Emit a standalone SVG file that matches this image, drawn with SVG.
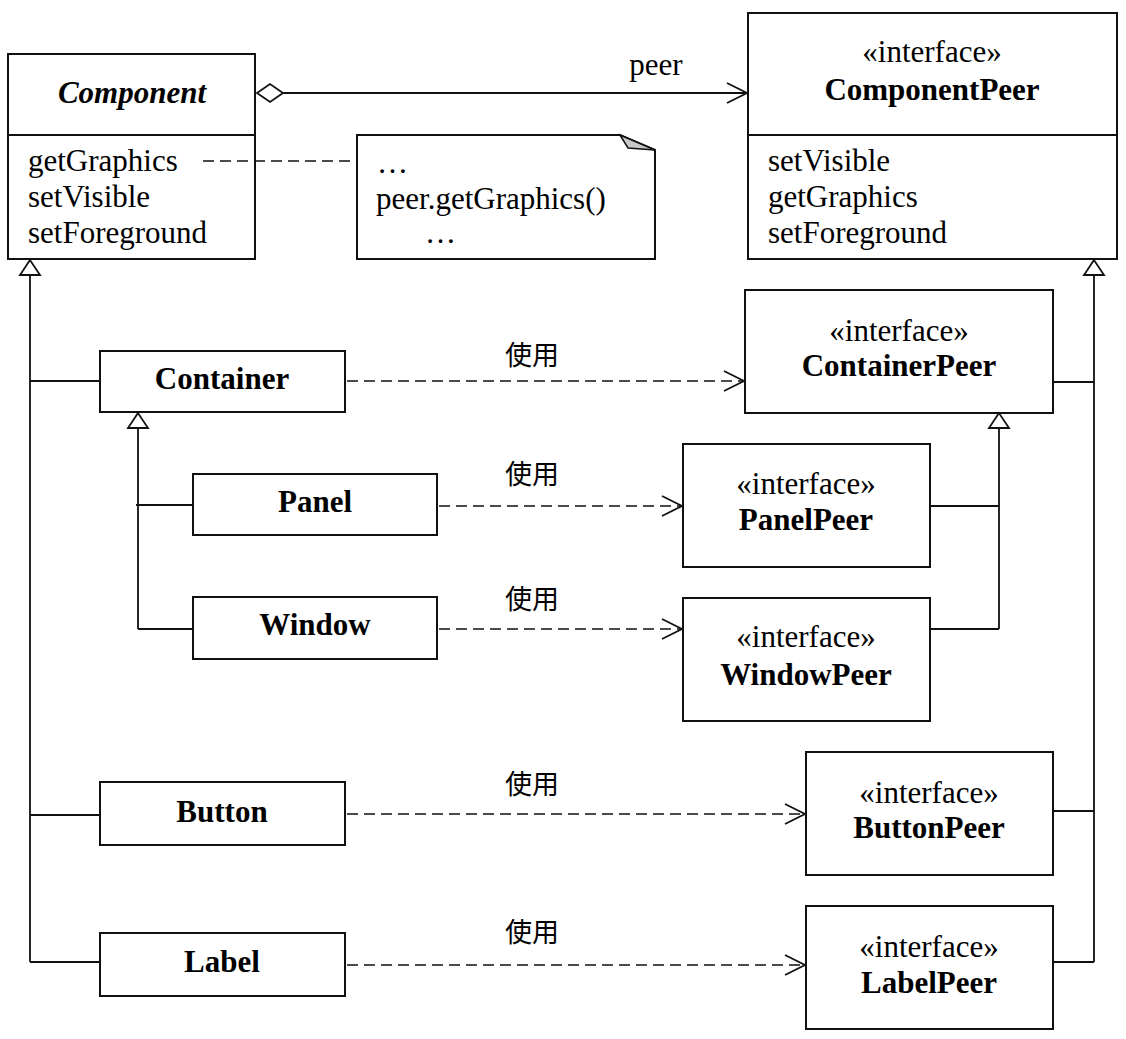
<svg xmlns="http://www.w3.org/2000/svg" width="1126" height="1039" viewBox="0 0 1126 1039">
<style>
.box{fill:#fff;stroke:#111;stroke-width:2}
.ln{fill:none;stroke:#111;stroke-width:1.8}
.dash{fill:none;stroke:#111;stroke-width:1.6;stroke-dasharray:11 6}
.tri{fill:#fff;stroke:#111;stroke-width:1.8}
text{font-family:"Liberation Serif","Times New Roman",serif;font-size:31px;fill:#000}
.c{text-anchor:middle}
.b{font-weight:bold}
.bi{font-weight:bold;font-style:italic}
.zh{font-family:"Noto Sans CJK SC","Noto Sans CJK JP",sans-serif;font-size:27px;text-anchor:middle}
</style>
<defs>
<marker id="open" markerUnits="userSpaceOnUse" markerWidth="24" markerHeight="24" viewBox="-21 -12 24 24" refX="0" refY="0" orient="auto">
<path d="M-20,-10 L0,0 L-20,10" fill="none" stroke="#111" stroke-width="1.8" stroke-dasharray="none"/>
</marker>
</defs>
<rect width="1126" height="1039" fill="#fff"/>

<g id="Component">
<rect x="8" y="54" width="247" height="205" class="box"/>
<line x1="8" y1="135" x2="255" y2="135" class="ln"/>
<text x="132" y="103" class="c bi">Component</text>
<text x="28" y="171">getGraphics</text>
<text x="28" y="207">setVisible</text>
<text x="28" y="243">setForeground</text>
</g>

<g id="note">
<path d="M357,135 H620 L655,150 V259 H357 Z" class="box"/>
<path d="M620,135 L655,150 L628,148 Z" fill="#c8c8c8" stroke="#111" stroke-width="1.5"/>
<text x="377" y="173">…</text>
<text x="376" y="209">peer.getGraphics()</text>
<text x="425" y="243">…</text>
</g>

<g id="ComponentPeer">
<rect x="748" y="13" width="369" height="246" class="box"/>
<line x1="748" y1="135" x2="1117" y2="135" class="ln"/>
<text x="932" y="62" class="c">«interface»</text>
<text x="932" y="100" class="c b">ComponentPeer</text>
<text x="768" y="171">setVisible</text>
<text x="768" y="207">getGraphics</text>
<text x="768" y="243">setForeground</text>
</g>

<g id="Container">
<rect x="100" y="351" width="245" height="61" class="box"/>
<text x="222" y="389" class="c b">Container</text>
</g>

<g id="ContainerPeer">
<rect x="745" y="290" width="308" height="123" class="box"/>
<text x="899" y="341" class="c">«interface»</text>
<text x="899" y="376" class="c b">ContainerPeer</text>
</g>

<g id="Panel">
<rect x="193" y="474" width="244" height="61" class="box"/>
<text x="315" y="512" class="c b">Panel</text>
</g>

<g id="PanelPeer">
<rect x="683" y="444" width="247" height="123" class="box"/>
<text x="806" y="494" class="c">«interface»</text>
<text x="806" y="530" class="c b">PanelPeer</text>
</g>

<g id="Window">
<rect x="193" y="597" width="244" height="62" class="box"/>
<text x="315" y="635" class="c b">Window</text>
</g>

<g id="WindowPeer">
<rect x="683" y="598" width="247" height="123" class="box"/>
<text x="806" y="647" class="c">«interface»</text>
<text x="806" y="685" class="c b">WindowPeer</text>
</g>

<g id="Button">
<rect x="100" y="782" width="245" height="63" class="box"/>
<text x="222" y="822" class="c b">Button</text>
</g>

<g id="ButtonPeer">
<rect x="806" y="752" width="247" height="123" class="box"/>
<text x="929" y="803" class="c">«interface»</text>
<text x="929" y="838" class="c b">ButtonPeer</text>
</g>

<g id="Label">
<rect x="100" y="933" width="245" height="63" class="box"/>
<text x="222" y="972" class="c b">Label</text>
</g>

<g id="LabelPeer">
<rect x="806" y="906" width="247" height="123" class="box"/>
<text x="929" y="957" class="c">«interface»</text>
<text x="929" y="993" class="c b">LabelPeer</text>
</g>

<g id="connectors">
<!-- association peer -->
<polygon points="257,93 270,84 283,93 270,102" class="tri"/>
<line x1="283" y1="93" x2="747" y2="93" class="ln" marker-end="url(#open)"/>
<text x="656" y="75" class="c">peer</text>
<!-- note link -->
<line x1="203" y1="161" x2="357" y2="161" class="dash" stroke-dasharray="13 7"/>
<!-- left inheritance -->
<polygon points="30,260 20,275 40,275" class="tri"/>
<path d="M30,275 V962 M30,381 H100 M30,815 H100 M30,962 H100" class="ln"/>
<!-- container inheritance -->
<polygon points="138,413 128,428 148,428" class="tri"/>
<path d="M138,428 V629 M136,505 H193 M138,629 H193" class="ln"/>
<!-- right inheritance -->
<polygon points="1094,260 1084,275 1104,275" class="tri"/>
<path d="M1094,275 V962 M1053,382 H1094 M1053,811 H1094 M1053,962 H1094" class="ln"/>
<!-- containerpeer inheritance -->
<polygon points="999,413 989,428 1009,428" class="tri"/>
<path d="M999,428 V629 M930,506 H999 M930,629 H999" class="ln"/>
<!-- dependencies -->
<line x1="347" y1="381" x2="744" y2="381" class="dash" stroke-dasharray="13 7" marker-end="url(#open)"/>
<text x="532" y="365" class="zh">使用</text>
<line x1="439" y1="506" x2="682" y2="506" class="dash" stroke-dasharray="10 6" marker-end="url(#open)"/>
<text x="532" y="484" class="zh">使用</text>
<line x1="439" y1="629" x2="682" y2="629" class="dash" stroke-dasharray="10 6" marker-end="url(#open)"/>
<text x="532" y="609" class="zh">使用</text>
<line x1="347" y1="814" x2="805" y2="814" class="dash" stroke-dasharray="11 6" marker-end="url(#open)"/>
<text x="532" y="794" class="zh">使用</text>
<line x1="347" y1="965" x2="805" y2="965" class="dash" stroke-dasharray="11 6" marker-end="url(#open)"/>
<text x="532" y="942" class="zh">使用</text>
</g>
</svg>
